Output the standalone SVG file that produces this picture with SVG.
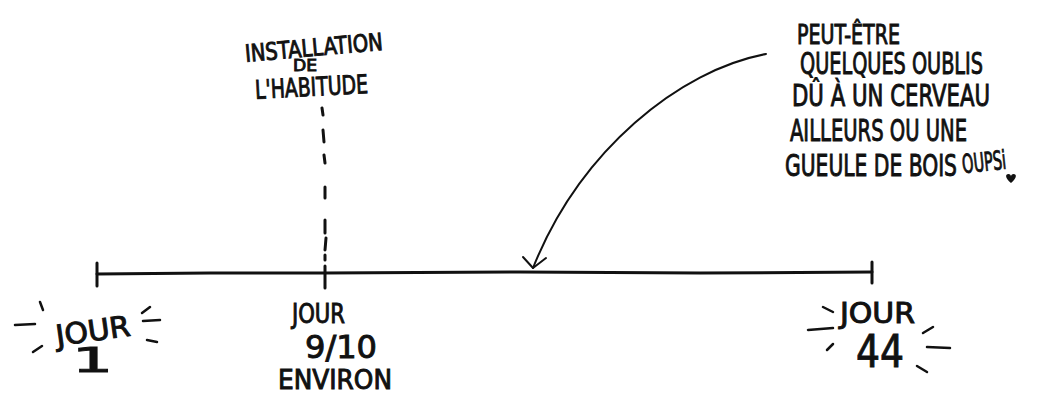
<svg xmlns="http://www.w3.org/2000/svg" width="1052" height="394" viewBox="0 0 1052 394">
<style>
.t{font-family:"DejaVu Sans Condensed","Liberation Sans Narrow","DejaVu Sans",sans-serif;fill:#111;stroke:#111;stroke-width:0.9;}
.ln{stroke:#111;stroke-width:3;fill:none;stroke-linecap:round;stroke-linejoin:round;}
.thin{stroke:#111;stroke-width:2;fill:none;stroke-linecap:round;stroke-linejoin:round;}
.ray{stroke:#111;stroke-width:2.5;fill:none;stroke-linecap:round;}
</style>
<rect width="1052" height="394" fill="#fff"/>
<g id="timeline">
<path class="ln" d="M97,274 L210,273 L325,273 L520,272 L700,273 L872,272"/>
<path class="ln" d="M97,263 V286"/>
<path class="ln" d="M325,266 V288"/>
<path class="ln" d="M872,262 V283"/>
</g>
<g id="connectors">
<g id="habit-dash">
<path class="ln" d="M322,108 L323,115 M323,130 L324,142 M324,155 L325,163 M325,187 L325,198 M325,220 L325,233 M326,238 L325,250 M325,255 L325,260"/>
</g>
<g id="note-arrow">
<path class="thin" d="M766,54 C680,70 580,150 533,268"/>
<path class="thin" d="M523,257 L533,268 L546,258"/>
</g>
</g>
<g id="habit-label">
<text class="t" x="245" y="56" font-size="24" textLength="138" lengthAdjust="spacingAndGlyphs" transform="rotate(-5 313 50)">INSTALLATION</text>
<text class="t" x="293" y="71" font-size="16" textLength="24" lengthAdjust="spacingAndGlyphs">DE</text>
<text class="t" x="255" y="96" font-size="26" textLength="113" lengthAdjust="spacingAndGlyphs" transform="rotate(-3 311 88)">L'HABITUDE</text>
</g>
<g id="note-label">
<text class="t" x="797" y="44" font-size="26" textLength="103" lengthAdjust="spacingAndGlyphs">PEUT-ÊTRE</text>
<text class="t" x="800" y="74" font-size="30" textLength="183" lengthAdjust="spacingAndGlyphs">QUELQUES OUBLIS</text>
<text class="t" x="792" y="106" font-size="30" textLength="198" lengthAdjust="spacingAndGlyphs">DÛ À UN CERVEAU</text>
<text class="t" x="790" y="141" font-size="31" textLength="177" lengthAdjust="spacingAndGlyphs">AILLEURS OU UNE</text>
<text class="t" x="785" y="176" font-size="31" textLength="172" lengthAdjust="spacingAndGlyphs">GUEULE DE BOIS</text>
<text class="t" x="962" y="171" font-size="26" textLength="44" lengthAdjust="spacingAndGlyphs" transform="rotate(-6 984 162)">OUPSi</text>
<path d="M1011,183 C1005,178 1005,174 1008.5,174 C1010,174 1011,175 1011,176.5 C1011,175 1012,174 1013.5,174 C1017,174 1017,178 1011,183 Z" fill="#111"/>
</g>
<g id="jour1">
<text class="t" x="55" y="341" font-size="29" textLength="75" lengthAdjust="spacingAndGlyphs" transform="rotate(-8 92 328)">JOUR</text>
<text class="t" x="72" y="372" font-size="34" textLength="41" lengthAdjust="spacingAndGlyphs">1</text>
<path class="ray" d="M40,302 L43,310 M15,325 L35,324 M33,352 L42,346 M142,313 L150,307 M143,321 L160,320 M147,340 L157,342"/>
</g>
<g id="jour910">
<text class="t" x="292" y="323" font-size="26" textLength="53" lengthAdjust="spacingAndGlyphs">JOUR</text>
<text class="t" x="305" y="358" font-size="32" textLength="72" lengthAdjust="spacingAndGlyphs">9/10</text>
<text class="t" x="278" y="389" font-size="26" textLength="114" lengthAdjust="spacingAndGlyphs">ENVIRON</text>
</g>
<g id="jour44">
<text class="t" x="840" y="323" font-size="28" textLength="75" lengthAdjust="spacingAndGlyphs">JOUR</text>
<text class="t" x="856" y="367" font-size="44" textLength="48" lengthAdjust="spacingAndGlyphs">44</text>
<path class="ray" d="M823,307 L833,312 M808,330 L833,328 M827,350 L833,344 M923,333 L933,327 M927,347 L950,348 M917,366 L927,372"/>
</g>
</svg>
